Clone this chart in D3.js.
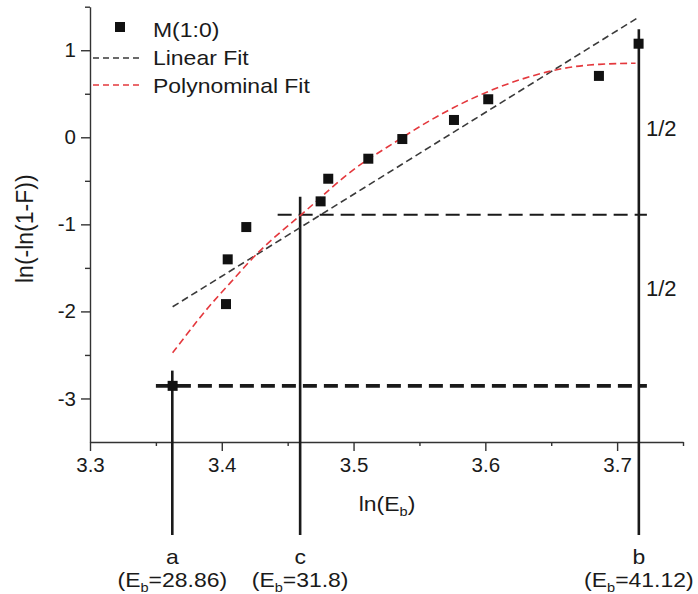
<!DOCTYPE html>
<html>
<head>
<meta charset="utf-8">
<script src="https://cdn.jsdelivr.net/npm/d3@7"></script>
<style>
  html, body { margin: 0; padding: 0; background: #ffffff; }
  svg { display: block; font-family: "Liberation Sans", Arial, sans-serif; }
</style>
</head>
<body>
<div id="chart"></div>
<script>
// Measured points: x = ln(Eb), y = ln(-ln(1-F))
const lnEb   = [3.3627, 3.4032, 3.4045, 3.4186, 3.4750, 3.4808, 3.5112, 3.5370, 3.5762, 3.6022, 3.6862, 3.7163];
const lnLnF  = [-2.855, -1.916, -1.402, -1.031, -0.736, -0.476, -0.246, -0.020, 0.199, 0.437, 0.705, 1.075];

// Linear fit (end points)
const linearFitX = [3.3627, 3.7163];
const linearFitY = [-1.947, 1.379];

// Polynominal fit, sampled along the drawn curve
const polyFitX = [3.3627, 3.3759, 3.3898, 3.4062, 3.4239, 3.4416, 3.4586, 3.4745, 3.4998, 3.5251, 3.5504, 3.5757, 3.6010, 3.6263, 3.6515, 3.6769, 3.7140];
const polyFitY = [-2.476, -2.215, -1.947, -1.678, -1.372, -1.123, -0.913, -0.700, -0.356, -0.120, 0.130, 0.345, 0.524, 0.667, 0.774, 0.839, 0.851];

// Marked energies a, c, b (top of each vertical line in y units)
const markerNames = ["a", "c", "b"];
const markerEb    = ["28.86", "31.8", "41.12"];
const markerTop   = [-2.68, -0.683, 1.24];

// Horizontal guides: level of a, and halfway to b
const levelA = lnLnF[0];
const levelB = lnLnF[lnLnF.length - 1];
const levelMid = (levelA + levelB) / 2;
const guideStartX = [3.350, 3.4424];
const guideEndX = 3.7226;
const halfLabelY = [0.107, -1.73];

const xMajor = [3.3, 3.4, 3.5, 3.6, 3.7];
const xMinor = [3.35, 3.45, 3.55, 3.65, 3.75];
const yMajor = [-3, -2, -1, 0, 1];
const yMinor = [-2.5, -1.5, -0.5, 0.5, 1.5];

const W = 698, H = 594;
const svg = d3.select("#chart").append("svg")
    .attr("width", W)
    .attr("height", H);

const x = d3.scaleLinear().domain([3.3, 3.75]).range([90, 683]);
const y = d3.scaleLinear().domain([-3.5, 1.5]).range([442, 6.7]);

const ink = "#1a1a1a";

// X axis
const gx = svg.append("g").attr("transform", "translate(0," + y(-3.5) + ")");
gx.call(d3.axisBottom(x).tickValues(xMajor).tickSize(9).tickSizeOuter(0).tickPadding(6).tickFormat(d => d3.format(".1f")(d)));
gx.append("g").call(d3.axisBottom(x).tickValues(xMinor).tickSize(4).tickSizeOuter(0).tickFormat(""))
  .select(".domain").remove();

// Y axis
const gy = svg.append("g").attr("transform", "translate(" + x(3.3) + ",0)");
gy.call(d3.axisLeft(y).tickValues(yMajor).tickSize(9).tickSizeOuter(0).tickPadding(5).tickFormat(d => String(d)));
gy.append("g").call(d3.axisLeft(y).tickValues(yMinor).tickSize(5).tickSizeOuter(0).tickFormat(""))
  .select(".domain").remove();

svg.selectAll(".domain").attr("stroke", "#333").attr("stroke-width", 1.4);
svg.selectAll(".tick line").attr("stroke", "#333").attr("stroke-width", 1.4);
svg.selectAll(".tick text").attr("fill", ink).style("font-size", "20.5px");

// Axis titles
svg.append("text")
   .attr("transform", "translate(33," + y(-1.05) + ") rotate(-90)")
   .attr("text-anchor", "middle")
   .style("font-size", "23px")
   .attr("fill", ink)
   .text("ln(-ln(1-F))");

const xTitle = svg.append("text")
   .attr("transform", "translate(387,511) scale(1.12,1)")
   .attr("text-anchor", "middle")
   .style("font-size", "20.5px")
   .attr("fill", ink);
xTitle.append("tspan").text("ln(E");
xTitle.append("tspan").attr("dy", 5).style("font-size", "13px").text("b");
xTitle.append("tspan").attr("dy", -5).text(")");

// Horizontal guides
svg.append("line")
   .attr("x1", x(guideStartX[0])).attr("x2", x(guideEndX))
   .attr("y1", y(levelA)).attr("y2", y(levelA))
   .attr("stroke", ink).attr("stroke-width", 3.6).attr("stroke-dasharray", "14,7");
svg.append("line")
   .attr("x1", x(guideStartX[1])).attr("x2", x(guideEndX))
   .attr("y1", y(levelMid)).attr("y2", y(levelMid))
   .attr("stroke", ink).attr("stroke-width", 2.2).attr("stroke-dasharray", "14,7");

// Vertical marker lines and labels
markerNames.forEach(function (name, i) {
    const xv = x(Math.log(+markerEb[i]));
    svg.append("line")
       .attr("x1", xv).attr("x2", xv)
       .attr("y1", y(markerTop[i])).attr("y2", 535)
       .attr("stroke", ink).attr("stroke-width", 2.6);
    svg.append("text")
       .attr("transform", "translate(" + xv + ",564) scale(1.12,1)")
       .attr("text-anchor", "middle")
       .style("font-size", "20.5px")
       .attr("fill", ink)
       .text(name);
    const t = svg.append("text")
       .attr("transform", "translate(" + xv + ",587) scale(1.12,1)")
       .attr("text-anchor", "middle")
       .style("font-size", "20.5px")
       .attr("fill", ink);
    t.append("tspan").text("(E");
    t.append("tspan").attr("dy", 5).style("font-size", "13px").text("b");
    t.append("tspan").attr("dy", -5).text("=" + markerEb[i] + ")");
});

// "1/2" labels
halfLabelY.forEach(function (v) {
    svg.append("text")
       .attr("x", 646).attr("y", y(v) + 8)
       .style("font-size", "22px")
       .attr("fill", ink)
       .text("1/2");
});

// Fits
const line = d3.line().x(d => x(d[0])).y(d => y(d[1]));
svg.append("path")
   .datum(linearFitX.map((v, i) => [v, linearFitY[i]]))
   .attr("d", line)
   .attr("fill", "none").attr("stroke", "#3a3a3a").attr("stroke-width", 1.6).attr("stroke-dasharray", "7,4");
svg.append("path")
   .datum(polyFitX.map((v, i) => [v, polyFitY[i]]))
   .attr("d", line.curve(d3.curveBasis))
   .attr("fill", "none").attr("stroke", "#e4383d").attr("stroke-width", 1.6).attr("stroke-dasharray", "7,4");

// Data squares
const sq = 10;
svg.append("g")
   .selectAll("rect")
   .data(lnEb.map((v, i) => [v, lnLnF[i]]))
   .enter()
   .append("rect")
   .attr("x", d => x(d[0]) - sq / 2)
   .attr("y", d => y(d[1]) - sq / 2)
   .attr("width", sq).attr("height", sq)
   .attr("fill", "#111");

// Legend
const legend = svg.append("g");
legend.append("rect").attr("x", 115).attr("y", 22).attr("width", sq).attr("height", sq).attr("fill", "#111");
legend.append("line").attr("x1", 93).attr("x2", 143).attr("y1", 58).attr("y2", 58)
      .attr("stroke", "#3a3a3a").attr("stroke-width", 1.6).attr("stroke-dasharray", "6,4");
legend.append("line").attr("x1", 93).attr("x2", 143).attr("y1", 85).attr("y2", 85)
      .attr("stroke", "#e4383d").attr("stroke-width", 1.6).attr("stroke-dasharray", "6,4");
[["M(1:0)", 37], ["Linear Fit", 65], ["Polynominal Fit", 93]].forEach(function (r) {
    legend.append("text")
          .attr("transform", "translate(153," + r[1] + ") scale(1.12,1)")
          .style("font-size", "20.5px")
          .attr("fill", ink)
          .text(r[0]);
});
</script>
</body>
</html>
